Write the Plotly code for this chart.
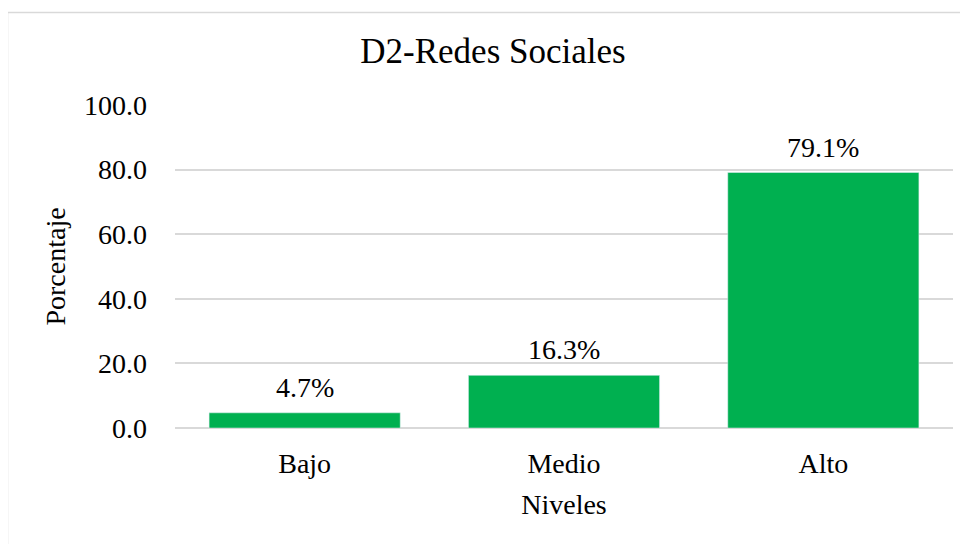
import plotly.graph_objects as go

niveles = ["Bajo", "Medio", "Alto"]
porcentaje = [4.7, 16.3, 79.1]
etiquetas = ["4.7%", "16.3%", "79.1%"]
y_ticks = [0, 20, 40, 60, 80, 100]

FONT = "Liberation Serif, Times New Roman, serif"
GRID = "#D9D9D9"

# the page adds an 8px body margin, so figure coords are page coords minus 8
L, T, R, B = 167, 97, 945, 420
W, H = 968, 544

fig = go.Figure(
    go.Bar(
        x=niveles,
        y=porcentaje,
        marker_color="#00B050",
        width=0.737,
    )
)

for nivel, valor, etiqueta in zip(niveles, porcentaje, etiquetas):
    fig.add_annotation(
        x=nivel,
        y=valor,
        text=etiqueta,
        showarrow=False,
        yanchor="bottom",
        yshift=8,
        font=dict(family=FONT, size=28, color="#000000"),
    )

fig.update_layout(
    width=W,
    height=H,
    margin=dict(l=L, r=W - R, t=T, b=H - B),
    paper_bgcolor="white",
    plot_bgcolor="white",
    showlegend=False,
    font=dict(family=FONT, size=28, color="#000000"),
    title=dict(
        text="D2-Redes Sociales",
        x=(493 - 8) / W,
        xref="container",
        xanchor="center",
        y=1 - 43 / H,
        yref="container",
        yanchor="middle",
        font=dict(family=FONT, size=35, color="#000000"),
    ),
    xaxis=dict(
        title=dict(text="Niveles", standoff=16, font=dict(size=28)),
        showgrid=False,
        showline=False,
        ticks="",
        ticklabelstandoff=16,
        tickfont=dict(size=28),
    ),
    yaxis=dict(
        title=dict(text="Porcentaje", standoff=10, font=dict(size=28)),
        range=[0, 100],
        tickvals=y_ticks,
        ticktext=[f"{v:.1f}" for v in y_ticks],
        showgrid=True,
        gridcolor=GRID,
        gridwidth=1.5,
        zeroline=True,
        zerolinecolor=GRID,
        zerolinewidth=1.5,
        showline=False,
        ticks="",
        ticklabelstandoff=27,
        tickfont=dict(size=28),
    ),
    shapes=[
        dict(
            type="rect",
            xref="paper",
            yref="paper",
            x0=(-0.5 - L) / (R - L),
            x1=1.2,
            y0=-0.6,
            y1=1 + (T - 4.5) / (B - T),
            line=dict(color=GRID, width=1.5),
            fillcolor="rgba(0,0,0,0)",
            layer="below",
        )
    ],
)

fig.write_html("out.html")
